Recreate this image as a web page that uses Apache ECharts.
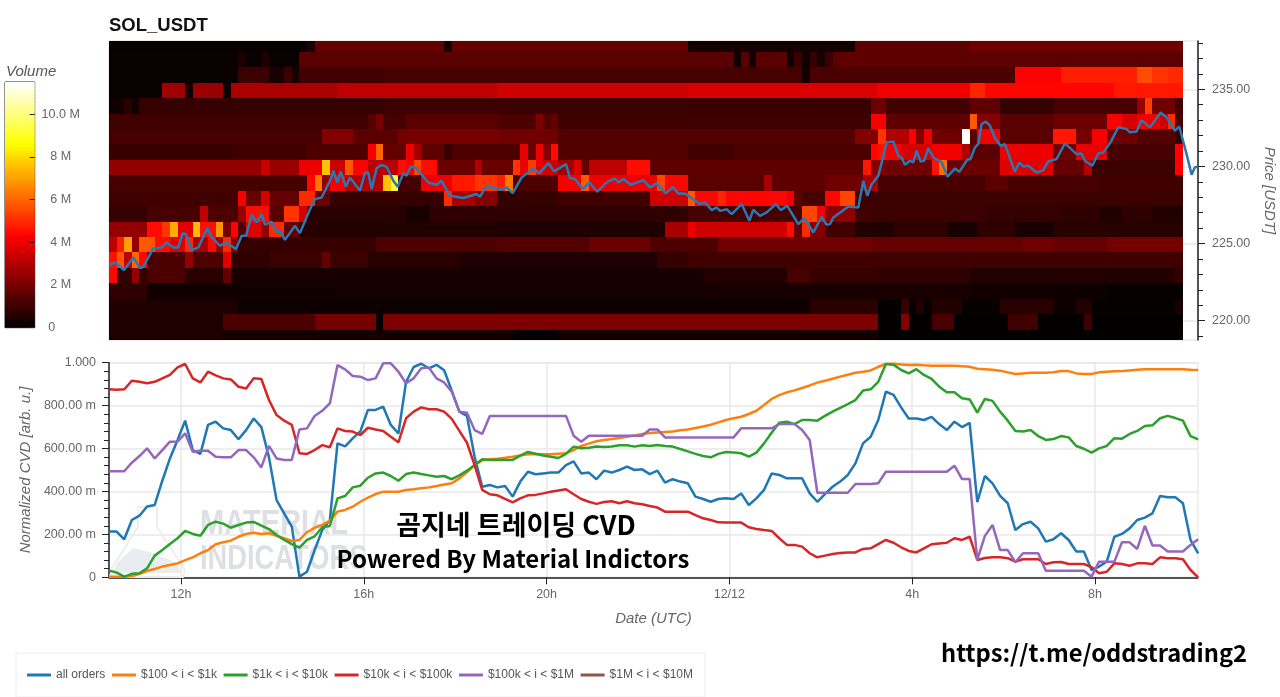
<!DOCTYPE html>
<html><head><meta charset="utf-8">
<style>html,body{margin:0;padding:0;background:#fff}#c{width:1280px;height:697px}</style>
<script src="https://cdn.jsdelivr.net/npm/echarts@6/dist/echarts.min.js"></script>
</head><body><div id="c"></div>
<script>
// ---- CVD series: one reading every 10 minutes from the left edge of the window
const allOrders=[.213,.213,.177,.267,.287,.33,.337,.45,.554,.64,.73,.593,.575,.71,.725,.694,.686,.643,.686,.74,.70,.56,.36,.298,.236,.003,.026,.127,.22,.267,.624,.61,.647,.68,.78,.78,.795,.71,.67,.91,.98,.995,.974,.99,.965,.87,.772,.752,.562,.422,.43,.419,.425,.376,.446,.492,.48,.484,.488,.488,.523,.54,.484,.488,.457,.497,.488,.50,.516,.50,.503,.481,.497,.441,.457,.446,.438,.376,.365,.352,.365,.368,.365,.391,.337,.368,.407,.484,.477,.461,.461,.461,.391,.352,.388,.422,.446,.477,.531,.624,.655,.733,.865,.85,.792,.74,.74,.733,.748,.714,.686,.725,.70,.72,.35,.472,.438,.379,.345,.22,.248,.259,.228,.166,.177,.205,.174,.12,.12,.034,.05,.073,.189,.202,.228,.267,.278,.298,.379,.373,.373,.345,.174,.112];
const usd100to1k=[.003,.002,.002,.006,.015,.03,.039,.05,.057,.065,.08,.093,.112,.127,.154,.163,.171,.189,.202,.208,.202,.205,.193,.182,.169,.174,.21,.231,.244,.264,.306,.314,.329,.352,.371,.388,.399,.399,.399,.407,.41,.415,.419,.425,.432,.438,.461,.489,.523,.545,.55,.553,.557,.562,.568,.573,.575,.573,.573,.576,.578,.593,.612,.623,.634,.64,.644,.649,.655,.661,.668,.672,.675,.677,.679,.685,.689,.696,.703,.711,.722,.733,.741,.748,.761,.776,.803,.831,.849,.862,.871,.882,.894,.907,.916,.925,.935,.944,.953,.958,.964,.981,.994,.995,.992,.989,.991,.988,.986,.986,.986,.986,.984,.981,.972,.97,.967,.963,.955,.947,.95,.953,.953,.953,.955,.961,.961,.95,.947,.947,.955,.958,.96,.961,.964,.967,.969,.969,.969,.969,.969,.969,.967,.966];
const usd1kto10k=[.031,.022,.003,.016,.019,.042,.101,.127,.155,.182,.216,.202,.194,.244,.259,.25,.231,.244,.255,.258,.241,.225,.197,.174,.155,.138,.174,.191,.233,.239,.368,.379,.419,.427,.464,.484,.488,.472,.45,.481,.488,.481,.475,.469,.472,.457,.475,.497,.523,.55,.547,.548,.547,.547,.567,.584,.576,.568,.562,.556,.575,.609,.601,.604,.609,.607,.61,.615,.615,.609,.615,.612,.616,.612,.609,.598,.587,.575,.565,.559,.575,.584,.581,.578,.562,.581,.624,.674,.72,.725,.714,.733,.733,.73,.752,.772,.79,.807,.826,.87,.876,.911,.994,.991,.966,.95,.97,.943,.925,.888,.862,.862,.834,.829,.767,.831,.822,.772,.73,.682,.679,.686,.658,.64,.644,.658,.652,.612,.599,.581,.601,.612,.648,.646,.668,.682,.705,.708,.741,.752,.742,.73,.658,.643];
const usd10kto100k=[.876,.874,.876,.916,.911,.904,.911,.927,.943,.978,.994,.927,.908,.958,.941,.927,.922,.888,.88,.927,.924,.826,.756,.73,.71,.578,.575,.593,.616,.606,.694,.682,.679,.663,.697,.689,.682,.655,.629,.741,.772,.792,.783,.783,.772,.738,.682,.627,.523,.407,.387,.382,.365,.349,.368,.382,.384,.391,.399,.404,.41,.387,.365,.352,.342,.351,.354,.345,.354,.345,.34,.332,.325,.306,.306,.306,.306,.29,.275,.267,.256,.255,.255,.255,.233,.225,.22,.216,.182,.151,.151,.143,.112,.093,.101,.109,.113,.115,.116,.132,.135,.155,.174,.161,.14,.123,.116,.135,.154,.158,.161,.182,.174,.189,.081,.09,.093,.093,.089,.073,.084,.084,.084,.062,.07,.071,.062,.062,.062,.047,.019,.026,.065,.062,.054,.065,.065,.062,.093,.089,.089,.084,.034,0];
const usd100kto1M=[.494,.494,.494,.534,.565,.601,.554,.593,.632,.632,.671,.585,.59,.59,.562,.559,.559,.593,.593,.559,.512,.612,.554,.547,.547,.689,.694,.752,.776,.811,.989,.969,.938,.935,.919,.927,.997,.997,.958,.904,.927,.974,.978,.927,.908,.865,.772,.767,.686,.668,.752,.752,.752,.752,.752,.752,.752,.752,.752,.752,.752,.66,.632,.66,.66,.66,.66,.66,.66,.66,.66,.689,.689,.652,.652,.652,.652,.652,.652,.652,.652,.652,.652,.694,.694,.694,.694,.694,.714,.714,.714,.686,.64,.394,.394,.394,.394,.394,.435,.435,.435,.438,.492,.492,.492,.492,.492,.492,.492,.492,.492,.52,.458,.458,.081,.193,.244,.127,.127,.07,.112,.112,.112,.031,.031,.031,.031,.031,.031,.003,.073,.073,.073,.163,.163,.132,.24,.148,.148,.12,.12,.12,.151,.177];
const usd1Mto10M=[];
const cvdNames=['all orders','$100 < i < $1k','$1k < i < $10k','$10k < i < $100k','$100k < i < $1M','$1M < i < $10M'];
const cvdValues=[allOrders,usd100to1k,usd1kto10k,usd10kto100k,usd100kto1M,usd1Mto10M];
// ---- price line: minutes since the left edge, and price in USDT
const priceMinutes=[0,7.9,19.7,31.9,40.7,45,58.2,69.1,75.7,84.5,91,96.7,101,108.5,117.3,129.1,134.8,145.7,154.5,166.7,174.2,179.9,187.3,193.9,200.4,204.8,213.5,220.1,224.5,231,244.2,250.7,263.9,270.4,279.2,290.1,294.5,299.8,304.1,311.1,316.4,329.5,336.1,340.4,344.8,351.4,358,364.5,373.3,379,386.4,390.8,396,403.9,419.2,430.2,436.7,447.7,465.2,482.7,487,495.8,513.3,522.1,530,541.8,557.2,565,576.9,584.3,600,605.3,611.9,621.9,630.7,641.2,653.4,664.4,668.8,675.3,685,701.6,710.3,719.1,730.9,740.1,747.5,756.3,776,782.5,791.3,797.8,802.2,811,817.5,830.7,840.7,846,854.7,863.5,875.7,881.9,890.6,905,912.9,924.7,935.7,942.2,946.6,951,970.7,983.8,990.4,995.6,1001.3,1010.1,1021,1029.8,1036.3,1040.6,1045,1051.6,1056,1060.3,1065.6,1070.4,1075.7,1082.2,1093.2,1101,1110.7,1116.4,1126.8,1131.2,1136.9,1141.3,1145.7,1151.4,1156.6,1163.2,1170.6,1176.3,1189.4,1195.1,1200.4,1207,1217.9,1226.6,1233.2,1244.1,1255.1,1270.4,1277,1281.3,1291,1298.8,1305.4,1315,1325,1336,1340.4,1349.2,1355.7,1366.7,1380.7,1388.5,1399.5,1405.2,1414.8,1421.4,1425.7,1429.8];
const priceValues=[223.62,223.77,223.28,224.10,223.41,223.49,224.70,224.75,225.07,224.75,224.75,225.68,225.61,224.57,224.75,226.0,225.4,224.86,225.07,224.64,225.5,225.5,226.87,226.37,226.91,226.22,226.43,225.72,225.83,225.24,226.15,225.68,227.23,227.88,227.99,229.07,229.72,228.96,229.68,228.68,229.29,228.42,229.61,229.61,228.53,229.89,230.09,229.98,229.07,228.68,229.55,229.39,230.0,229.87,228.96,228.81,229.07,228.10,227.95,228.21,228.03,228.75,228.49,228.64,228.27,229.29,229.87,229.55,230.22,229.68,230.15,229.24,229.18,228.53,228.96,228.36,228.96,229.22,228.96,229.18,228.81,229.11,228.64,228.9,228.25,228.68,228.25,228.25,227.56,227.67,227.17,227.34,227.12,227.23,226.91,227.56,226.48,227.19,226.8,227.02,227.56,227.17,227.45,226.26,226.65,225.72,226.74,226.22,226.26,226.69,227.41,227.34,229.07,228.1,228.85,229.39,231.56,231.62,230.69,230.58,230.11,230.37,230.26,231.02,230.32,230.37,231.19,230.58,230.26,229.33,229.87,229.65,230.43,230.48,231.23,231.45,232.75,232.9,232.64,231.84,231.34,231.45,229.65,230.26,230.0,230.04,229.61,229.76,230.32,230.48,231.49,230.8,230.84,230.37,230.04,230.84,230.91,231.56,232.53,232.42,232.21,232.27,233.0,232.53,233.5,233.18,232.31,232.59,230.8,229.46,229.94,230.0];
// ---- volume heat map in millions: each price row is a list of [end column (exclusive), volume] runs
const row238=[[26,.1],[27,.5],[44,1.7],[45,.4],[76,1.7],[98,.35],[113,1.6],[141,1.9]];
const row237=[[17,.15],[18,.5],[20,.15],[21,.5],[25,.15],[82,1.5],[83,.3],[84,1.5],[85,.3],[89,1.5],[90,.3],[91,1.0],[92,.3],[93,.9],[94,.4],[95,1.0],[141,1.6]];
const row236=[[17,.15],[21,1.0],[23,.4],[24,1.0],[25,.4],[36,1.1],[91,1.2],[92,.3],[119,1.25],[125,4.3],[135,4.8],[137,5.6],[139,5.2],[141,5.0]];
const row235=[[7,.15],[10,2.7],[11,.3],[15,2.6],[16,.3],[30,2.9],[51,3.2],[76,3.5],[101,3.7],[113,4.1],[115,4.9],[132,4.4],[141,4.7]];
const row234=[[2,.3],[3,.7],[4,.3],[36,.9],[76,1.0],[100,.95],[102,1.8],[113,1.1],[117,1.6],[124,.9],[135,1.2],[136,2.6],[137,5.4],[140,1.9],[141,1.1]];
const row233=[[34,1.1],[35,1.4],[36,2.0],[39,1.2],[51,1.5],[56,1.3],[57,2.1],[58,1.4],[59,1.7],[100,1.1],[102,4.2],[113,1.6],[114,5.8],[117,2.2],[124,1.5],[131,1.8],[133,4.3],[135,3.6],[138,4.1],[139,3.5],[140,5.0],[141,1.2]];
const row232=[[28,1.2],[32,2.2],[38,1.5],[51,2.0],[59,1.9],[98,1.4],[101,2.2],[102,5.2],[105,3.0],[106,4.3],[107,2.2],[108,4.0],[112,1.9],[113,11.5],[114,1.5],[117,4.1],[124,1.5],[127,4.7],[129,2.0],[131,4.2],[132,2.1],[135,1.8],[140,1.4],[141,.9]];
const row231=[[16,.95],[26,1.1],[34,1.3],[35,4.2],[36,6.0],[39,1.7],[40,4.0],[41,2.8],[44,1.6],[45,.9],[54,1.3],[55,3.9],[56,1.8],[57,4.0],[58,2.2],[59,4.5],[76,1.4],[82,1.1],[100,1.3],[101,4.4],[102,4.6],[104,4.2],[108,3.6],[112,4.1],[113,3.0],[117,1.5],[124,4.0],[127,1.8],[131,3.9],[140,1.2],[141,4.3]];
const row230=[[20,2.5],[21,3.4],[25,2.6],[28,4.0],[29,7.6],[31,3.4],[32,5.8],[34,4.3],[38,3.1],[39,4.5],[40,4.2],[41,5.5],[43,4.5],[48,1.8],[49,3.0],[53,1.8],[54,5.2],[55,4.0],[56,5.3],[57,4.0],[59,3.5],[61,2.7],[62,3.8],[63,1.7],[68,3.2],[71,4.5],[99,1.6],[100,4.7],[102,2.2],[108,1.9],[109,4.6],[110,6.2],[117,1.8],[124,3.8],[128,1.7],[129,3.0],[140,1.0],[141,4.3]];
const row229=[[26,1.2],[27,4.4],[28,6.3],[29,2.5],[31,4.2],[36,3.0],[37,7.6],[38,9.2],[41,1.2],[45,4.0],[48,4.7],[51,5.2],[52,4.8],[53,6.3],[59,1.3],[62,4.2],[63,5.8],[72,4.0],[73,5.5],[76,4.4],[86,1.5],[87,2.8],[94,1.6],[99,1.9],[101,2.8],[115,1.2],[118,1.5],[130,1.2],[141,1.1]];
const row228=[[17,1.1],[18,4.2],[20,1.8],[21,3.6],[25,1.7],[27,5.0],[29,1.8],[44,.9],[45,5.0],[48,2.8],[51,2.2],[59,.9],[71,1.1],[76,3.5],[77,5.8],[80,4.4],[81,4.9],[89,4.4],[90,4.0],[91,1.6],[94,1.2],[96,4.4],[98,5.5],[141,1.0]];
const row227=[[5,.9],[12,1.2],[13,3.2],[17,1.3],[18,2.5],[21,4.5],[23,1.5],[25,5.2],[26,3.5],[39,.7],[42,.4],[76,.8],[91,1.2],[93,5.5],[94,4.2],[98,2.4],[101,1.1],[115,1.0],[125,.9],[130,.8],[133,.6],[137,.8],[141,.6]];
const row226=[[5,2.5],[7,4.5],[8,5.2],[9,7.2],[11,3.8],[12,7.5],[14,4.5],[15,6.8],[16,2.0],[17,4.3],[18,1.3],[20,3.8],[21,2.5],[23,5.0],[25,1.7],[27,.7],[51,.6],[73,.5],[76,2.8],[77,4.0],[89,3.5],[90,4.5],[91,1.7],[92,5.0],[94,2.2],[98,1.1],[101,.6],[103,.5],[110,.8],[114,.4],[119,.8],[124,.4],[141,.7]];
const row225=[[1,3.2],[2,4.8],[3,7.0],[4,2.5],[6,5.8],[8,4.5],[10,3.8],[11,5.0],[13,2.8],[14,4.4],[15,2.6],[16,5.0],[17,2.2],[35,.9],[51,1.3],[63,1.4],[71,1.8],[80,1.3],[100,1.9],[120,1.7],[124,1.9],[131,1.7],[141,2.0]];
const row224=[[1,4.6],[2,5.8],[3,3.2],[4,6.0],[5,4.4],[10,1.3],[11,2.5],[15,1.3],[16,3.8],[21,.8],[28,1.0],[29,1.7],[34,1.0],[46,.7],[72,.5],[76,.9],[141,1.1]];
const row223=[[1,4.4],[3,.9],[4,2.5],[5,.9],[10,1.3],[15,.7],[16,1.7],[78,.4],[89,.6],[92,1.2],[101,.9],[113,.8],[140,.6],[141,.9]];
const row222=[[5,.8],[30,.3],[78,.35],[113,.4],[124,.3],[131,.25],[141,.1]];
const row221=[[4,.6],[17,.5],[51,.2],[92,.25],[101,.7],[104,.05],[105,.9],[106,.1],[107,.6],[108,.1],[112,.6],[117,.1],[124,.7],[127,.2],[129,.6],[140,.1],[141,.4]];
const row220=[[15,.5],[27,1.3],[35,2.0],[36,.1],[101,2.1],[104,.05],[105,2.2],[108,.05],[111,1.2],[118,.05],[122,1.1],[128,.05],[129,1.1],[141,.05]];
const row219=[[15,.5],[53,.35],[59,.1],[101,.35],[141,.08]];
const heatRows=[row238,row237,row236,row235,row234,row233,row232,row231,row230,row229,row228,row227,row226,row225,row224,row223,row222,row221,row220,row219];
const heatPrices=[238,237,236,235,234,233,232,231,230,229,228,227,226,225,224,223,222,221,220,219];
const columnMinutes=10;
// ---- axis ticks
const timeTickMinutes=[94.5,334.5,574.5,814.5,1054.5,1294.5];
const timeTickLabels=['12h','16h','20h','12/12','4h','8h'];
const priceMajorTicks=[220,225,230,235];
const priceMinorTicks=[219,220,221,222,223,224,225,226,227,228,229,230,231,232,233,234,235,236,237,238];
const volumeTicks=[0,2,4,6,8,10];

const heatData=[];
heatRows.forEach((runs,r)=>{let c=0;runs.forEach(([end,v])=>{for(;c<end;c++)heatData.push([c,heatPrices[r],v]);});});
const barData=[];for(let k=0;k<115;k++)barData.push([k/10,(k+.5)/10,(k+.5)/10]);

const gray='#666',fam='"Liberation Sans",Arial,sans-serif';
const colors=['#1f77b4','#ff7f0e','#2ca02c','#d62728','#9467bd','#8c564b'];
const chart=echarts.init(document.getElementById('c'),null,{renderer:'canvas'});

function heatItem(params,api){
  const c=api.value(0),p=api.value(1);
  const a=api.coord([c*columnMinutes,p+.43]),b=api.coord([(c+1)*columnMinutes,p-.57]);
  const cs=params.coordSys;
  const rect=echarts.graphic.clipRectByRect({x:Math.round(a[0]),y:Math.round(a[1]),width:Math.round(b[0])-Math.round(a[0]),height:Math.round(b[1])-Math.round(a[1])},{x:cs.x,y:cs.y,width:cs.width,height:cs.height});
  return rect&&{type:'rect',shape:rect,style:{fill:api.visual('color')}};
}
function barItem(params,api){
  const a=api.coord([0,api.value(0)+.1]),b=api.coord([1,api.value(0)]);
  const cs=params.coordSys;
  const rect=echarts.graphic.clipRectByRect({x:a[0],y:Math.floor(a[1]),width:b[0]-a[0],height:Math.ceil(b[1])-Math.floor(a[1])},{x:cs.x,y:cs.y,width:cs.width,height:cs.height});
  return rect&&{type:'rect',shape:rect,style:{fill:api.visual('color')}};
}
const option={
  animation:false,
  textStyle:{fontFamily:fam},
  title:[{text:'SOL_USDT',left:104,top:11,textStyle:{fontFamily:fam,fontSize:18.5,fontWeight:'bold',color:'#111'}},
         {text:'Volume',left:1,top:59,textStyle:{fontFamily:fam,fontSize:15,fontWeight:'normal',fontStyle:'italic',color:'#555'}}],
  grid:[
    {left:109,top:41,width:1089,height:299,show:true,borderColor:'#ddd',borderWidth:1,outerBoundsMode:'none'},
    {left:109,top:362.7,width:1089,height:214.6,show:true,borderColor:'#ececec',borderWidth:1.5,outerBoundsMode:'none'},
    {left:5,top:82,width:29.7,height:245.7,show:true,borderColor:'#222',borderWidth:1,outerBoundsMode:'none'}
  ],
  xAxis:[
    {type:'value',gridIndex:0,min:0,max:1429.8,show:false},
    {type:'value',gridIndex:1,min:0,max:1429.8,name:'Date (UTC)',nameLocation:'middle',nameGap:34,
     nameTextStyle:{fontSize:15,fontStyle:'italic',color:gray},
     axisLine:{onZero:false,lineStyle:{color:'#222',width:1.5}},
     axisTick:{customValues:timeTickMinutes,length:7,lineStyle:{color:'#222',width:1}},
     axisLabel:{customValues:timeTickMinutes,fontSize:12.5,color:gray,margin:11,showMinLabel:true,showMaxLabel:true,
       formatter:v=>timeTickLabels[timeTickMinutes.indexOf(v)]},
     splitLine:{show:true,lineStyle:{color:'#e8e8e8',width:1.5}}},
    {type:'value',gridIndex:2,min:0,max:1,show:false}
  ],
  yAxis:[
    {type:'value',gridIndex:0,position:'right',min:218.75,max:238.13,name:'Price [USDT]',nameLocation:'middle',nameGap:64,nameRotate:-90,
     nameTextStyle:{fontSize:15,fontStyle:'italic',color:gray},
     axisLine:{show:true,onZero:false,lineStyle:{color:'#222',width:1.5}},
     axisTick:{show:true,customValues:priceMajorTicks,length:7,lineStyle:{color:'#222',width:1}},
     axisLabel:{customValues:priceMajorTicks,fontSize:12.5,color:gray,margin:14,formatter:v=>v.toFixed(2)},
     splitLine:{show:true,lineStyle:{color:'#e8e8e8',width:1.5}}},
    {type:'value',gridIndex:0,position:'right',min:218.75,max:238.13,
     axisLine:{show:false,onZero:false},axisLabel:{show:false},splitLine:{show:false},
     axisTick:{show:true,customValues:priceMinorTicks,length:5,lineStyle:{color:'#222',width:1}}},
    {type:'value',gridIndex:1,min:0,max:1,interval:.2,name:'Normalized CVD [arb. u.]',nameLocation:'middle',nameGap:74,
     nameTextStyle:{fontSize:15,fontStyle:'italic',color:gray},
     axisLine:{show:true,onZero:false,lineStyle:{color:'#222',width:1.5}},
     axisTick:{show:true,length:7,lineStyle:{color:'#222',width:1}},
     minorTick:{show:true,splitNumber:5,length:5,lineStyle:{color:'#222',width:1}},
     axisLabel:{fontSize:12.5,color:gray,margin:13,formatter:v=>v===0?'0':v===1?'1.000':(v*1000).toFixed(2)+' m'},
     splitLine:{show:true,lineStyle:{color:'#e8e8e8',width:1.5}}},
    {type:'value',gridIndex:2,position:'right',min:0,max:11.5,z:5,
     axisLine:{show:false,onZero:false},
     axisTick:{show:true,inside:true,customValues:volumeTicks,length:5,lineStyle:{color:'#222',width:1}},
     axisLabel:{fontSize:12.5,color:gray,margin:26,align:'center',customValues:volumeTicks,
       rich:{zero:{padding:[0,18,0,0],fontSize:12.5,color:gray}},
       formatter:v=>v===0?'{zero|0}':v===10?'10.0 M':v+' M'},
     splitLine:{show:false}}
  ],
  visualMap:{type:'continuous',show:false,min:0,max:11.5,dimension:2,seriesIndex:[0,8],
    inRange:{color:['#000000','#550000','#aa0000','#ff0000','#ff5500','#ffaa00','#ffff00','#ffff80','#ffffff']}},
  legend:{left:16,top:653,padding:[16,12,16,11],itemWidth:24,itemHeight:3,itemGap:6.6,icon:'rect',
    borderColor:'#eee',borderWidth:1,selectedMode:false,textStyle:{fontSize:12,color:'#555',fontFamily:fam},data:cvdNames},
  series:[
    {type:'custom',name:'Volume',xAxisIndex:0,yAxisIndex:0,data:heatData,renderItem:heatItem,encode:{x:0,y:1},progressive:0,z:2,silent:true},
    {type:'line',name:'Price',xAxisIndex:0,yAxisIndex:0,data:priceMinutes.map((m,i)=>[m,priceValues[i]]),showSymbol:false,lineStyle:{color:'#2a78b2',width:2.5},itemStyle:{color:'#2a78b2'},z:4,silent:true},
    ...cvdNames.map((n,s)=>({type:'line',name:n,xAxisIndex:1,yAxisIndex:2,data:cvdValues[s].map((v,i)=>[i*columnMinutes,v]),showSymbol:false,clip:true,
      lineStyle:{color:colors[s],width:2.5},itemStyle:{color:colors[s]},z:3+s/10,silent:true})),
    {type:'custom',name:'Colorbar',xAxisIndex:2,yAxisIndex:3,data:barData,renderItem:barItem,encode:{y:1},progressive:0,z:2,silent:true}
  ],
  graphic:{elements:[
    {type:'polygon',z:1,silent:true,shape:{points:[[138,507],[157,507],[157,527],[185,570],[183,577],[110,577],[112,568],[138,527]]},style:{fill:'none',stroke:'#eceef0',lineWidth:2}},
    {type:'polygon',z:1,silent:true,shape:{points:[[117,563],[133,548],[150,552],[177,563],[181,573],[113,573]]},style:{fill:'#e8eeef'}},
    {type:'text',z:1,silent:true,x:200,y:507,scaleX:.83,style:{text:'MATERIAL',font:'bold 35px "Liberation Sans",sans-serif',fill:'#dcdfe3'}},
    {type:'text',z:1,silent:true,x:200,y:542,scaleX:.78,style:{text:'INDICATORS',font:'bold 35px "Liberation Sans",sans-serif',fill:'#dcdfe3'}},
    {type:'text',z:20,silent:true,x:516,y:525,style:{text:'곰지네 트레이딩 CVD',align:'center',verticalAlign:'middle',font:'bold 27px "Noto Sans CJK KR",sans-serif',fill:'#000'}},
    {type:'text',z:20,silent:true,x:513,y:559,style:{text:'Powered By Material Indictors',align:'center',verticalAlign:'middle',font:'bold 24px "Noto Sans CJK KR",sans-serif',fill:'#000'}},
    {type:'text',z:20,silent:true,x:1094,y:653,style:{text:'https://t.me/oddstrading2',align:'center',verticalAlign:'middle',font:'bold 23.7px "Noto Sans CJK KR",sans-serif',fill:'#000'}}
  ]}
};
chart.setOption(option);
</script></body></html>
